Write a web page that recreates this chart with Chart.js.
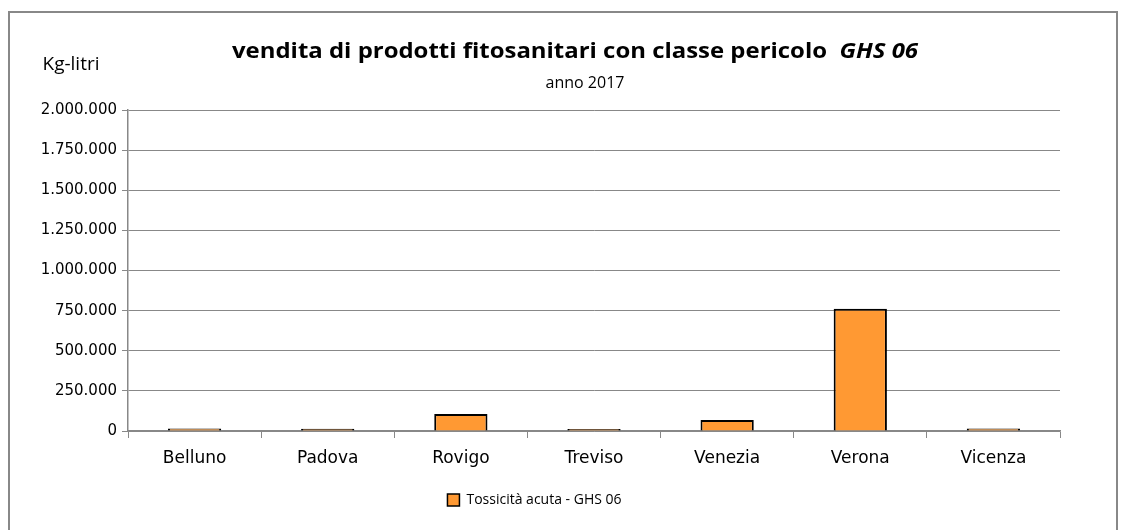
<!DOCTYPE html>
<html><head><meta charset="utf-8">
<script src="https://cdn.jsdelivr.net/npm/chart.js@4/dist/chart.umd.min.js"></script>
<style>html,body{margin:0;padding:0;background:#fff}#w{width:1121px;height:530px}</style>
</head><body><div id="w"><canvas id="c" width="1121" height="530"></canvas></div>
<script>
const categories = ["Belluno","Padova","Rovigo","Treviso","Venezia","Verona","Vicenza"];
const seriesName = "Tossicità acuta - GHS 06";
const values = [15000, 14000, 106000, 13000, 69000, 762000, 15000];
const yTicks = [0,250000,500000,750000,1000000,1250000,1500000,1750000,2000000];
const titleText = "vendita di prodotti fitosanitari con classe pericolo  ";
const titleItalic = "GHS 06";
const subtitleText = "anno 2017";
const yUnit = "Kg-litri";

const fmt = v => v.toLocaleString('de-DE');
const OS = '"Open Sans",sans-serif';
const DV = '"DejaVu Sans",Verdana,sans-serif';

const decor = {
  id:'decor',
  beforeDraw(chart){
    const ctx = chart.ctx;
    ctx.save();
    ctx.strokeStyle = '#888'; ctx.lineWidth = 2;
    ctx.beginPath(); ctx.moveTo(9, 540); ctx.lineTo(9, 12); ctx.lineTo(1117, 12); ctx.lineTo(1117,540); ctx.stroke();
    ctx.restore();
  },
  afterDraw(chart){
    const ctx = chart.ctx;
    ctx.save();
    ctx.fillStyle = '#000';
    ctx.textBaseline = 'alphabetic';
    ctx.font = 'bold 21px ' + OS;
    let w1 = ctx.measureText(titleText).width;
    ctx.font = 'italic bold 21px ' + OS;
    let w2 = ctx.measureText(titleItalic).width;
    const sx = 686 / (w1 + w2);
    ctx.translate(575, 58);
    ctx.scale(sx, 1.0);
    ctx.textAlign = 'left';
    ctx.font = 'bold 21px ' + OS;
    ctx.fillText(titleText, -(w1 + w2)/2, 0);
    ctx.font = 'italic bold 21px ' + OS;
    ctx.fillText(titleItalic, -(w1 + w2)/2 + w1, 0);
    ctx.restore();
    ctx.save();
    ctx.fillStyle = '#000';
    ctx.textAlign = 'center';
    ctx.textBaseline = 'alphabetic';
    ctx.font = '16px ' + OS;
    ctx.fillText(subtitleText, 585, 88);
    ctx.font = '19px ' + OS;
    ctx.fillText(yUnit, 71, 70);
    ctx.restore();
  }
};

new Chart(document.getElementById('c'), {
  type:'bar',
  data:{ labels: categories, datasets:[{ label: seriesName, data: values,
    backgroundColor:'#FF9933', borderColor:'#000', borderWidth:2, borderSkipped:'bottom',
    categoryPercentage:1, barPercentage:0.4 }]},
  options:{
    responsive:false, animation:false,
    layout:{ padding:{ left:9, right:61, top:110, bottom:13 } },
    plugins:{
      title:{display:false}, tooltip:{enabled:false},
      legend:{ position:'bottom', labels:{ boxWidth:12, boxHeight:12, padding:8, color:'#000',
        font:{ family: OS, size:14 },
        generateLabels(chart){ return [{text: seriesName, fillStyle:'#FF9933', strokeStyle:'#000', lineWidth:1.5, datasetIndex:0}]; } } }
    },
    scales:{
      x:{ grid:{ offset:true, drawOnChartArea:false, color:'#888', tickLength:7, lineWidth:1 },
          border:{ color:'#888', width:1.5 },
          ticks:{ color:'#000', padding:10, font:{ family: DV, size:17 } },
          afterFit(s){ s.height = 54; } },
      y:{ min:0, max:2000000,
          afterBuildTicks(s){ s.ticks = yTicks.map(v=>({value:v})); },
          grid:{ color:'#888', tickLength:6, lineWidth:1 },
          border:{ color:'#888', width:1.5 },
          ticks:{ color:'#000', padding:5, font:{ family: DV, size:15 }, callback:v=>fmt(v) },
          afterFit(s){ s.width = 119; } }
    }
  },
  plugins:[decor]
});
</script></body></html>
